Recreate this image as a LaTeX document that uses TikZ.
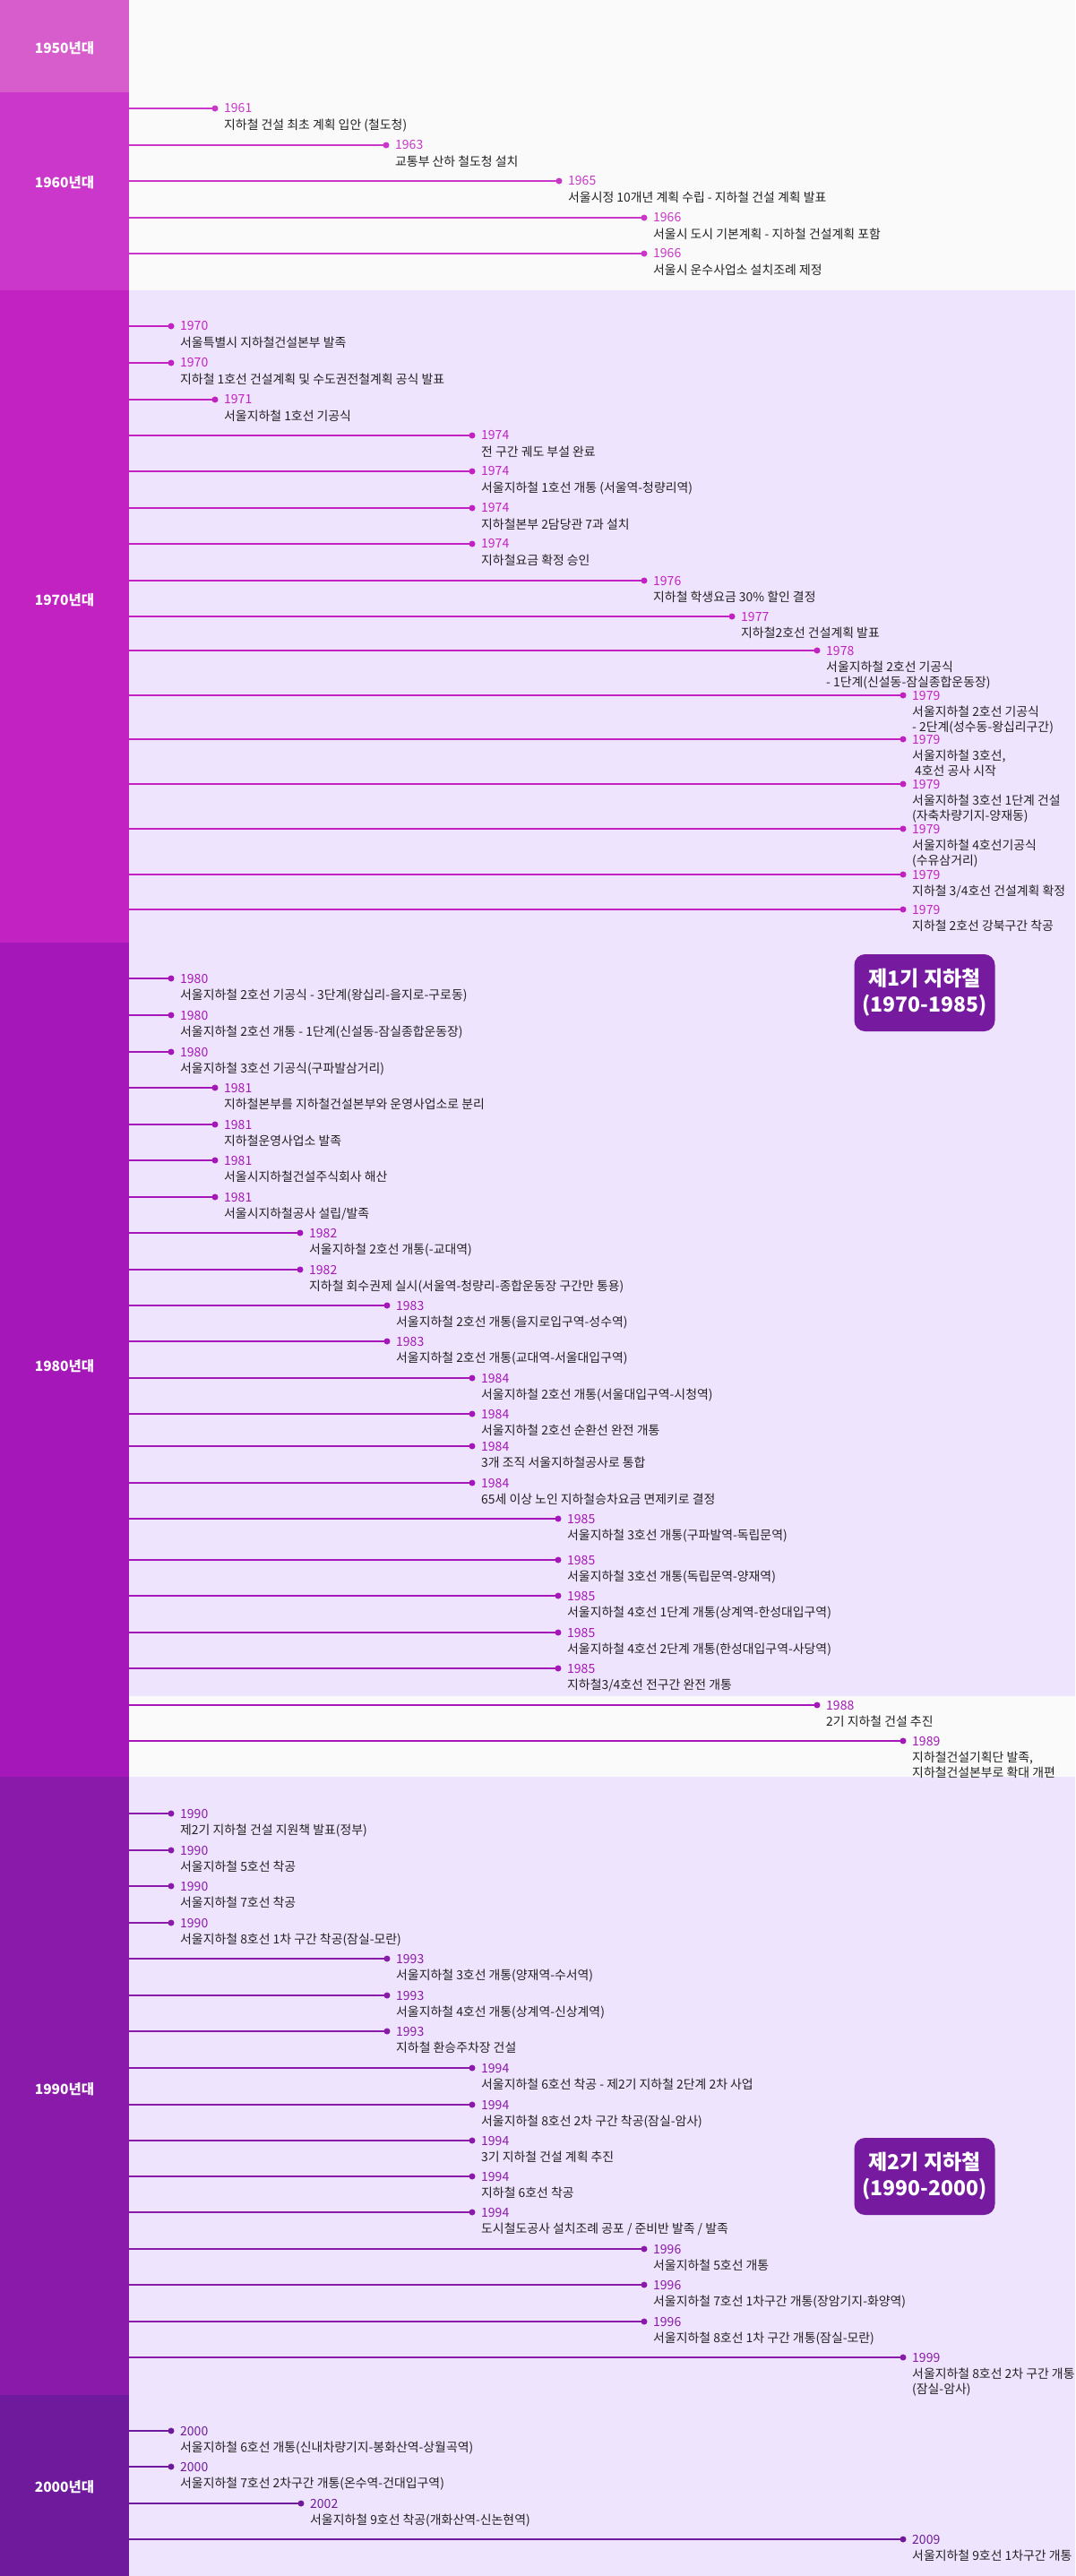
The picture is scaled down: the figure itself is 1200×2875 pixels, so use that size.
\documentclass[tikz,border=0pt]{standalone}
\usepackage{fontspec}
\setmainfont{Noto Sans CJK KR}
\usepackage{xcolor}
\usepackage{tikz}
\usetikzlibrary{positioning}

\definecolor{band50}{HTML}{D65DCB}
\definecolor{band60}{HTML}{CA37CA}
\definecolor{band70}{HTML}{C222C2}
\definecolor{band80}{HTML}{A517B8}
\definecolor{band90}{HTML}{8A1AA9}
\definecolor{band00}{HTML}{6F1A9C}
\definecolor{lav}{HTML}{EEE4FD}
\definecolor{paper}{HTML}{FAFAFA}
\definecolor{eraclr}{HTML}{761BA0}
\definecolor{ink}{HTML}{222222}

\tikzset{
  evdot/.style={circle, inner sep=0pt, minimum size=7pt},
  evline/.style={line width=2.6pt},
  yearlbl/.style={anchor=west, inner sep=0pt, font=\fontsize{14}{16}\selectfont},
  desclbl/.style={anchor=north west, inner sep=0pt, align=left, text=ink,
                  font=\fontsize{13.9}{17.7}\selectfont},
  decadelbl/.style={text=white, font=\fontsize{15.5}{18}\selectfont\bfseries},
  erabox/.style={fill=eraclr, text=white, rounded corners=12pt, align=center,
                 minimum width=157pt, minimum height=86pt, inner sep=0pt,
                 font=\fontsize{23}{29}\selectfont\bfseries}
}

\begin{document}
\begin{tikzpicture}[x=1pt, y=-1pt]

%% ── Canvas: 1pt = 1px, y runs downward ───────────────────────────────────────
\useasboundingbox (0,0) rectangle (1200,2875);

%% ── Right-hand background ────────────────────────────────────────────────────
\fill[paper] (144,0) rectangle (1200,324);
\fill[lav]   (144,324) rectangle (1200,1893);
\fill[paper] (144,1893) rectangle (1200,1983);
\fill[lav]   (144,1983) rectangle (1200,2875);

%% ── Decade column ────────────────────────────────────────────────────────────
\foreach \ytop/\ybot/\clr/\lab/\ly in {0/103/band50/1950/54, 103/324/band60/1960/204,
    324/1052/band70/1970/670, 1052/1983/band80/1980/1525,
    1983/2673/band90/1990/2332, 2673/2875/band00/2000/2776}{
  \fill[\clr] (0,\ytop) rectangle (144,\ybot);
  \node[decadelbl] (dec\lab) at (72,\ly) {{\lab}년대};
}

%% ═══ 1960s ═══════════════════════════════════════════════════════════════════
\def\clr{band60}
\foreach \yy/\xx/\yr/\txt in {
    121/240/1961/{지하철 건설 최초 계획 입안 (철도청)},
    162/431/1963/{교통부 산하 철도청 설치},
    202/624/1965/{서울시정 10개년 계획 수립 - 지하철 건설 계획 발표},
    243/719/1966/{서울시 도시 기본계획 - 지하철 건설계획 포함},
    283/719/1966/{서울시 운수사업소 설치조례 제정}}{
  \coordinate (s\yy) at (144,\yy);
  \node[evdot, fill=\clr] (e\yy) at (\xx,\yy) {};
  \draw[evline, draw=\clr] (s\yy) -- (e\yy.center);
  \node[yearlbl, text=\clr] (y\yy) at (\xx+10,\yy) {\yr};
  \node[desclbl] (t\yy) at (\xx+10,\yy+10.6) {\strut\txt};
}

%% ═══ 1970s ═══════════════════════════════════════════════════════════════════
\def\clr{band70}
\foreach \yy/\xx/\yr/\txt in {
    364/191/1970/{서울특별시 지하철건설본부 발족},
    405/191/1970/{지하철 1호선 건설계획 및 수도권전철계획 공식 발표},
    446/240/1971/{서울지하철 1호선 기공식},
    486/527/1974/{전 구간 궤도 부설 완료},
    526/527/1974/{서울지하철 1호선 개통 (서울역-청량리역)},
    567/527/1974/{지하철본부 2담당관 7과 설치},
    607/527/1974/{지하철요금 확정 승인},
    648/719/1976/{지하철 학생요금 30\% 할인 결정},
    688/817/1977/{지하철2호선 건설계획 발표},
    726/912/1978/{서울지하철 2호선 기공식\\- 1단계(신설동-잠실종합운동장)},
    776/1008/1979/{서울지하철 2호선 기공식\\- 2단계(성수동-왕십리구간)},
    825/1008/1979/{서울지하철 3호선,\\\hspace{3pt}4호선 공사 시작},
    875/1008/1979/{서울지하철 3호선 1단계 건설\\(자축차량기지-양재동)},
    925/1008/1979/{서울지하철 4호선기공식\\(수유삼거리)},
    976/1008/1979/{지하철 3/4호선 건설계획 확정},
    1015/1008/1979/{지하철 2호선 강북구간 착공}}{
  \coordinate (s\yy) at (144,\yy);
  \node[evdot, fill=\clr] (e\yy) at (\xx,\yy) {};
  \draw[evline, draw=\clr] (s\yy) -- (e\yy.center);
  \node[yearlbl, text=\clr] (y\yy) at (\xx+10,\yy) {\yr};
  \node[desclbl] (t\yy) at (\xx+10,\yy+10.6) {\strut\txt};
}

%% ═══ 1980s ═══════════════════════════════════════════════════════════════════
\def\clr{band80}
\foreach \yy/\xx/\yr/\txt in {
    1092/191/1980/{서울지하철 2호선 기공식 - 3단계(왕십리-을지로-구로동)},
    1133/191/1980/{서울지하철 2호선 개통 - 1단계(신설동-잠실종합운동장)},
    1174/191/1980/{서울지하철 3호선 기공식(구파발삼거리)},
    1214/240/1981/{지하철본부를 지하철건설본부와 운영사업소로 분리},
    1255/240/1981/{지하철운영사업소 발족},
    1295/240/1981/{서울시지하철건설주식회사 해산},
    1336/240/1981/{서울시지하철공사 설립/발족},
    1376/335/1982/{서울지하철 2호선 개통(-교대역)},
    1417/335/1982/{지하철 회수권제 실시(서울역-청량리-종합운동장 구간만 통용)},
    1457/432/1983/{서울지하철 2호선 개통(을지로입구역-성수역)},
    1497/432/1983/{서울지하철 2호선 개통(교대역-서울대입구역)},
    1538/527/1984/{서울지하철 2호선 개통(서울대입구역-시청역)},
    1578/527/1984/{서울지하철 2호선 순환선 완전 개통},
    1614/527/1984/{3개 조직 서울지하철공사로 통합},
    1655/527/1984/{65세 이상 노인 지하철승차요금 면제키로 결정},
    1695/623/1985/{서울지하철 3호선 개통(구파발역-독립문역)},
    1741/623/1985/{서울지하철 3호선 개통(독립문역-양재역)},
    1781/623/1985/{서울지하철 4호선 1단계 개통(상계역-한성대입구역)},
    1822/623/1985/{서울지하철 4호선 2단계 개통(한성대입구역-사당역)},
    1862/623/1985/{지하철3/4호선 전구간 완전 개통},
    1903/912/1988/{2기 지하철 건설 추진},
    1943/1008/1989/{지하철건설기획단 발족,\\지하철건설본부로 확대 개편}}{
  \coordinate (s\yy) at (144,\yy);
  \node[evdot, fill=\clr] (e\yy) at (\xx,\yy) {};
  \draw[evline, draw=\clr] (s\yy) -- (e\yy.center);
  \node[yearlbl, text=\clr] (y\yy) at (\xx+10,\yy) {\yr};
  \node[desclbl] (t\yy) at (\xx+10,\yy+10.6) {\strut\txt};
}

%% ═══ 1990s ═══════════════════════════════════════════════════════════════════
\def\clr{band90}
\foreach \yy/\xx/\yr/\txt in {
    2024/191/1990/{제2기 지하철 건설 지원책 발표(정부)},
    2065/191/1990/{서울지하철 5호선 착공},
    2105/191/1990/{서울지하철 7호선 착공},
    2146/191/1990/{서울지하철 8호선 1차 구간 착공(잠실-모란)},
    2186/432/1993/{서울지하철 3호선 개통(양재역-수서역)},
    2227/432/1993/{서울지하철 4호선 개통(상계역-신상계역)},
    2267/432/1993/{지하철 환승주차장 건설},
    2308/527/1994/{서울지하철 6호선 착공 - 제2기 지하철 2단계 2차 사업},
    2349/527/1994/{서울지하철 8호선 2차 구간 착공(잠실-암사)},
    2389/527/1994/{3기 지하철 건설 계획 추진},
    2429/527/1994/{지하철 6호선 착공},
    2469/527/1994/{도시철도공사 설치조례 공포 / 준비반 발족 / 발족},
    2510/719/1996/{서울지하철 5호선 개통},
    2550/719/1996/{서울지하철 7호선 1차구간 개통(장암기지-화양역)},
    2591/719/1996/{서울지하철 8호선 1차 구간 개통(잠실-모란)},
    2631/1008/1999/{서울지하철 8호선 2차 구간 개통\\(잠실-암사)}}{
  \coordinate (s\yy) at (144,\yy);
  \node[evdot, fill=\clr] (e\yy) at (\xx,\yy) {};
  \draw[evline, draw=\clr] (s\yy) -- (e\yy.center);
  \node[yearlbl, text=\clr] (y\yy) at (\xx+10,\yy) {\yr};
  \node[desclbl] (t\yy) at (\xx+10,\yy+10.6) {\strut\txt};
}

%% ═══ 2000s ═══════════════════════════════════════════════════════════════════
\def\clr{band00}
\foreach \yy/\xx/\yr/\txt in {
    2713/191/2000/{서울지하철 6호선 개통(신내차량기지-봉화산역-상월곡역)},
    2753/191/2000/{서울지하철 7호선 2차구간 개통(온수역-건대입구역)},
    2794/336/2002/{서울지하철 9호선 착공(개화산역-신논현역)},
    2834/1008/2009/{서울지하철 9호선 1차구간 개통}}{
  \coordinate (s\yy) at (144,\yy);
  \node[evdot, fill=\clr] (e\yy) at (\xx,\yy) {};
  \draw[evline, draw=\clr] (s\yy) -- (e\yy.center);
  \node[yearlbl, text=\clr] (y\yy) at (\xx+10,\yy) {\yr};
  \node[desclbl] (t\yy) at (\xx+10,\yy+10.6) {\strut\txt};
}

%% ── Era badges ───────────────────────────────────────────────────────────────
\node[erabox] (era1) at (1032,1108) {제1기 지하철\\(1970-1985)};
\node[erabox] (era2) at (1032,2429) {제2기 지하철\\(1990-2000)};

\end{tikzpicture}
\end{document}
